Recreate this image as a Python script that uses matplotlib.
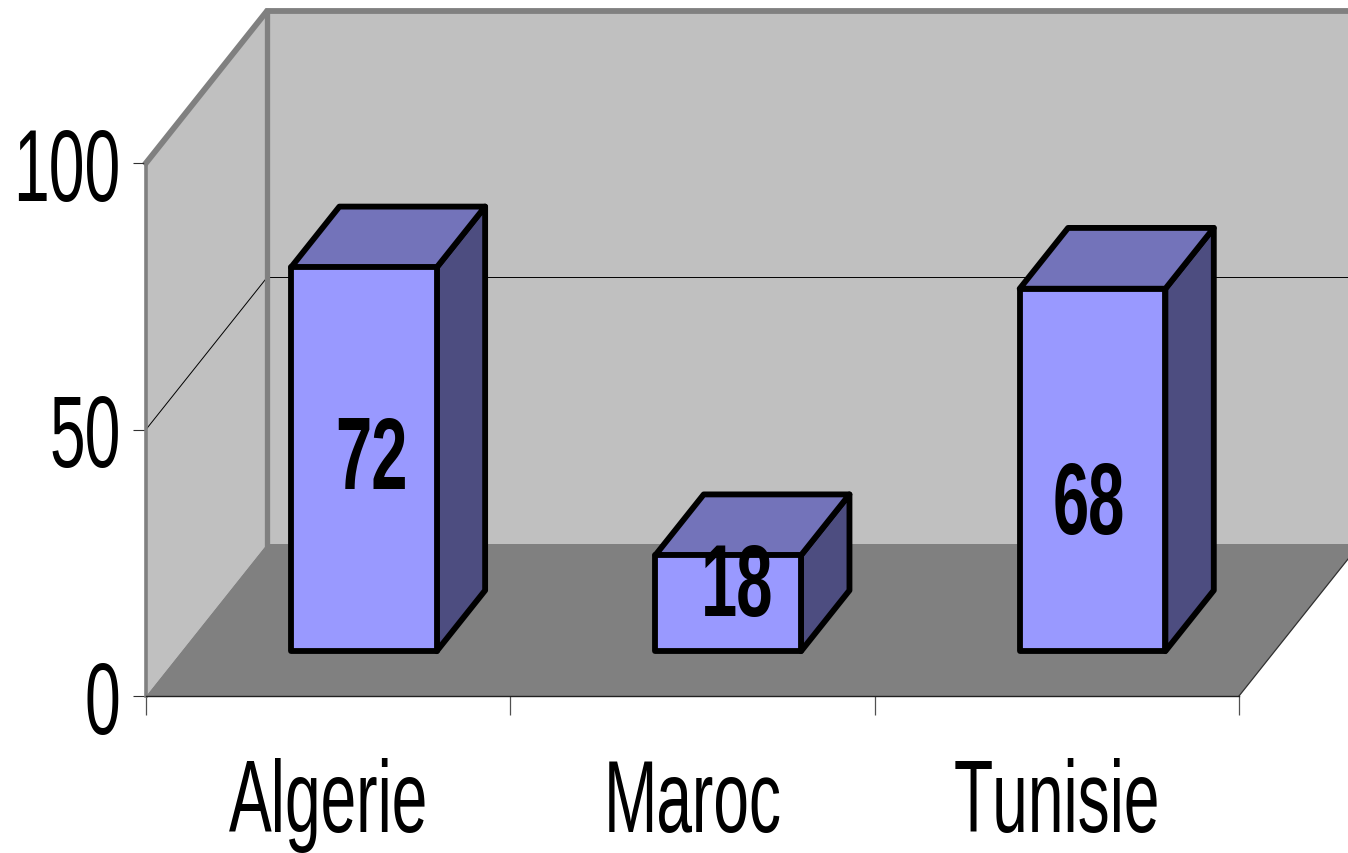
import matplotlib
matplotlib.use("Agg")
import matplotlib.pyplot as plt
from matplotlib import font_manager as fm
from matplotlib.patches import Polygon
from fontTools.ttLib import TTFont

countries = ["Algerie", "Maroc", "Tunisie"]
values = [72, 18, 68]
value_ticks = [0, 50, 100]


def narrow_font(weight, out_name, sx=0.63):
    # squeeze Liberation Sans sideways, there is no narrow enough face installed
    path = fm.findfont(fm.FontProperties(family="Liberation Sans", weight=weight))
    font = TTFont(path)
    glyf = font["glyf"]
    for name in font.getGlyphOrder():
        g = glyf[name]
        if g.isComposite():
            for comp in g.components:
                comp.x = int(comp.x * sx)
        elif g.numberOfContours > 0:
            g.coordinates.scale((sx, 1))
        adv, lsb = font["hmtx"][name]
        font["hmtx"][name] = (int(adv * sx), int(lsb * sx))
    for name in font.getGlyphOrder():
        glyf[name].recalcBounds(glyf)
    for tag in ["kern", "GPOS", "GSUB", "hdmx", "VDMX", "LTSH", "fpgm", "prep", "cvt "]:
        if tag in font:
            del font[tag]
    font.save(out_name)
    return fm.FontProperties(fname=out_name)


regular = narrow_font("normal", "narrow.ttf")
bold = narrow_font("bold", "narrow_bold.ttf", sx=0.64)

W, H = 1348, 854
fig = plt.figure(figsize=(W / 100, H / 100), dpi=100, facecolor="white")
ax = fig.add_axes([146 / W, (H - 697) / H, 1093 / W, 533 / H])
ax.set_xlim(0, 3)
ax.set_ylim(0, 100)
ax.patch.set_visible(False)

# how far the back of the box is shifted from the front plane, in data units
DEPTH_X = 121 / (1093 / 3)
DEPTH_Y = 152 / 5.33


def proj(x, y, t):
    return (x + t * DEPTH_X, y + t * DEPTH_Y)


GREY_WALL = "#C0C0C0"
GREY_FLOOR = "#808080"

# walls and floor
ax.add_patch(Polygon([proj(0, 0, 0), proj(0, 0, 1), proj(0, 100, 1), proj(0, 100, 0)],
                     fc=GREY_WALL, ec="none", clip_on=False, zorder=1))
ax.add_patch(Polygon([proj(0, 0, 1), proj(3, 0, 1), proj(3, 100, 1), proj(0, 100, 1)],
                     fc=GREY_WALL, ec="none", clip_on=False, zorder=1))
ax.add_patch(Polygon([proj(0, 0, 0), proj(3, 0, 0), proj(3, 0, 1), proj(0, 0, 1)],
                     fc=GREY_FLOOR, ec="none", clip_on=False, zorder=1.5))

# gridline at 50 runs over the side wall and the back wall
grid = [proj(0, 50, 0), proj(0, 50, 1), proj(3, 50, 1)]
ax.plot(*zip(*grid), color="black", lw=0.7, clip_on=False, zorder=1.2)

# thick frame of the walls
frame = [proj(0, 100, 0), proj(0, 100, 1), proj(3, 100, 1)]
ax.plot(*zip(*frame), color=GREY_FLOOR, lw=4.2, clip_on=False, zorder=1.3, solid_joinstyle="miter")
edge = [proj(0, 100, 1), proj(0, 0, 1)]
ax.plot(*zip(*edge), color=GREY_FLOOR, lw=3.8, clip_on=False, zorder=1.3)

# thin line on the open side of the floor
right = [proj(3, 0, 0), proj(3, 0, 1)]
ax.plot(*zip(*right), color="#303030", lw=0.9, clip_on=False, zorder=1.6)

# bars
bar_w = 0.4
t0, t1 = 0.295, 0.695
for i, v in enumerate(values):
    x0 = i + 0.5 - bar_w / 2
    x1 = x0 + bar_w
    style = dict(ec="black", lw=4.2, joinstyle="round", clip_on=False, zorder=3 + i * 0.1)
    ax.add_patch(Polygon([proj(x1, 0, t0), proj(x1, 0, t1), proj(x1, v, t1), proj(x1, v, t0)],
                         fc="#4D4D80", **style))
    ax.add_patch(Polygon([proj(x0, v, t0), proj(x1, v, t0), proj(x1, v, t1), proj(x0, v, t1)],
                         fc="#7373BA", **style))
    ax.add_patch(Polygon([proj(x0, 0, t0), proj(x1, 0, t0), proj(x1, v, t0), proj(x0, v, t0)],
                         fc="#9999FF", **style))

# value labels, placed by hand on the front faces
label_x = [0.62, 1.622, 2.588]
label_y = [44.0, 20.2, 35.5]
for x, y, v in zip(label_x, label_y, values):
    ax.text(x, y, str(v), fontproperties=bold, fontsize=73.4, ha="center", va="center",
            color="black", zorder=5)

# axes
for side in ["top", "right"]:
    ax.spines[side].set_visible(False)
ax.spines["left"].set_color(GREY_FLOOR)
ax.spines["left"].set_linewidth(2.6)
ax.spines["bottom"].set_color("#202020")
ax.spines["bottom"].set_linewidth(1.0)

ax.set_yticks(value_ticks)
ax.set_yticklabels([str(v) for v in value_ticks], fontproperties=regular, fontsize=73.4)
ax.tick_params(axis="y", length=9.4, width=0.8, color="#303030", pad=9)

ax.set_xticks([0, 1, 2, 3])
ax.set_xticklabels([])
ax.tick_params(axis="x", which="major", length=14, width=0.9, color="#505050")
ax.set_xticks([0.5, 1.5, 2.5], minor=True)
ax.set_xticklabels(countries, minor=True, fontproperties=regular, fontsize=73.4)
ax.tick_params(axis="x", which="minor", length=0, pad=44)

fig.savefig("out.png", dpi=100)
